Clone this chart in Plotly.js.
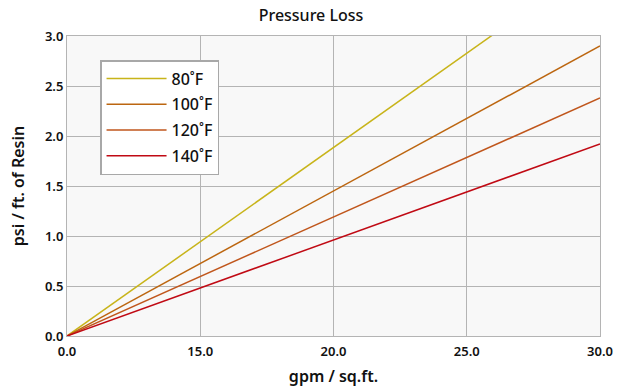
<!DOCTYPE html>
<html>
<head>
<meta charset="utf-8">
<script src="https://cdn.plot.ly/plotly-3.0.1.min.js"></script>
<style>html,body{margin:0;padding:0;background:#fff}#chart{width:622px;height:390px}</style>
</head>
<body>
<div id="chart"></div>
<script>
const seriesNames = ["80˚F", "100˚F", "120˚F", "140˚F"];
const flowX = [0, 30];
const loss80 = [0, 3.77];
const loss100 = [0, 2.90];
const loss120 = [0, 2.38];
const loss140 = [0, 1.92];
const xTickVals = [0, 7.5, 15, 22.5, 30];
const xTickText = ["0.0", "15.0", "20.0", "25.0", "30.0"];
const colors = ["#c8b41a", "#bc6610", "#c0561c", "#c00a14"];

const ys = [loss80, loss100, loss120, loss140];
const traces = ys.map((y, i) => ({
  x: flowX, y: y, type: "scatter", mode: "lines",
  name: seriesNames[i], legendgroup: "g" + i,
  line: {color: colors[i], width: 1.5}
}));

const font = {family: "Noto Sans, Open Sans, sans-serif", color: "#111"};
const layout = {
  width: 622, height: 390,
  margin: {l: 67, r: 22, t: 36, b: 54},
  paper_bgcolor: "#ffffff",
  plot_bgcolor: "#f8f8f8",
  font: font,
  title: {text: "Pressure Loss", x: 0.5, xanchor: "center", y: 0.96, yanchor: "middle",
          font: {family: font.family, size: 16, color: "#111", weight: 500}},
  xaxis: {
    range: [0, 30], tickvals: xTickVals, ticktext: xTickText,
    showgrid: true, gridcolor: "#b4b4b4", gridwidth: 1,
    showline: true, linecolor: "#b4b4b4", linewidth: 1, mirror: true,
    zeroline: false, ticks: "outside", ticklen: 3, tickcolor: "rgba(0,0,0,0)",
    tickfont: {family: font.family, size: 13, color: "#111", weight: 600},
    title: {text: "gpm / sq.ft.", standoff: 12, font: {family: font.family, size: 16, color: "#111", weight: 600}}
  },
  yaxis: {
    range: [0, 3], dtick: 0.5, tickformat: ".1f",
    showgrid: true, gridcolor: "#b4b4b4", gridwidth: 1,
    showline: true, linecolor: "#b4b4b4", linewidth: 1, mirror: true,
    zeroline: false, ticks: "", ticklen: 0,
    tickfont: {family: font.family, size: 13, color: "#111", weight: 600},
    title: {text: "psi / ft. of Resin", standoff: 16, font: {family: font.family, size: 16, color: "#111", weight: 600}}
  },
  showlegend: true,
  legend: {
    x: 0.062, y: 0.92, xanchor: "left", yanchor: "top",
    bgcolor: "#ffffff", bordercolor: "#a8a8a8", borderwidth: 1.5,
    font: {family: font.family, size: 16, color: "#111", weight: 500},
    itemwidth: 60,
    traceorder: "grouped", tracegroupgap: 2
  }
};
Plotly.newPlot("chart", traces, layout, {displayModeBar: false, staticPlot: true});
</script>
</body>
</html>
